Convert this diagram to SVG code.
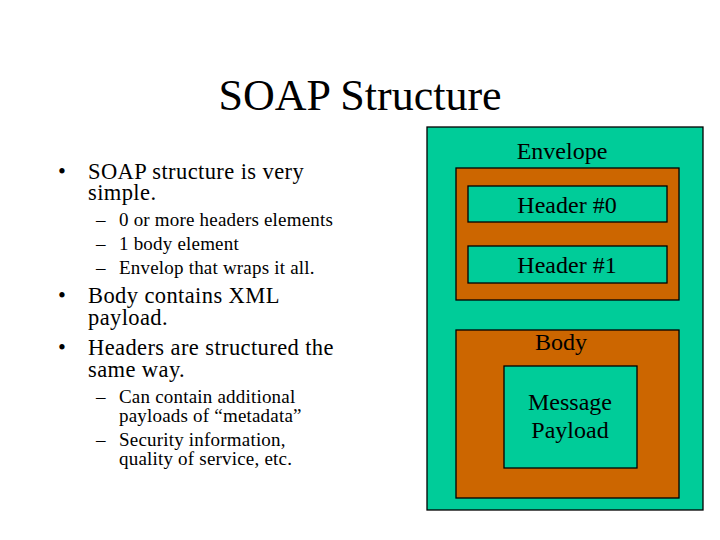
<svg xmlns="http://www.w3.org/2000/svg" width="720" height="540" viewBox="0 0 720 540">
<rect width="720" height="540" fill="#fff"/>
<g id="title">
<text font-family="Liberation Serif" font-size="44" x="360" y="110" text-anchor="middle">SOAP Structure</text>
</g>
<g id="bullets" fill="#000">
<text font-family="Liberation Serif" font-size="22.5" letter-spacing="0.4" x="58" y="179">•</text>
<text font-family="Liberation Serif" font-size="22.5" letter-spacing="0.4" x="88" y="179">SOAP structure is very</text>
<text font-family="Liberation Serif" font-size="22.5" letter-spacing="0.4" x="88" y="200">simple.</text>
<text font-family="Liberation Serif" font-size="19" letter-spacing="0.2" x="96" y="226">–</text><text font-family="Liberation Serif" font-size="19" letter-spacing="0.2" x="119" y="226">0 or more headers elements</text>
<text font-family="Liberation Serif" font-size="19" letter-spacing="0.2" x="96" y="250">–</text><text font-family="Liberation Serif" font-size="19" letter-spacing="0.2" x="119" y="250">1 body element</text>
<text font-family="Liberation Serif" font-size="19" letter-spacing="0.2" x="96" y="274">–</text><text font-family="Liberation Serif" font-size="19" letter-spacing="0.2" x="119" y="274">Envelop that wraps it all.</text>
<text font-family="Liberation Serif" font-size="22.5" letter-spacing="0.4" x="58" y="303">•</text>
<text font-family="Liberation Serif" font-size="22.5" letter-spacing="0.4" x="88" y="303">Body contains XML</text>
<text font-family="Liberation Serif" font-size="22.5" letter-spacing="0.4" x="88" y="325">payload.</text>
<text font-family="Liberation Serif" font-size="22.5" letter-spacing="0.4" x="58" y="355">•</text>
<text font-family="Liberation Serif" font-size="22.5" letter-spacing="0.4" x="88" y="355">Headers are structured the</text>
<text font-family="Liberation Serif" font-size="22.5" letter-spacing="0.4" x="88" y="377">same way.</text>
<text font-family="Liberation Serif" font-size="19" letter-spacing="0.2" x="96" y="403">–</text><text font-family="Liberation Serif" font-size="19" letter-spacing="0.2" x="119" y="403">Can contain additional</text>
<text font-family="Liberation Serif" font-size="19" letter-spacing="0.2" x="119" y="422">payloads of “metadata”</text>
<text font-family="Liberation Serif" font-size="19" letter-spacing="0.2" x="96" y="446">–</text><text font-family="Liberation Serif" font-size="19" letter-spacing="0.2" x="119" y="446">Security information,</text>
<text font-family="Liberation Serif" font-size="19" letter-spacing="0.2" x="119" y="465">quality of service, etc.</text>
</g>
<g id="envelope">
<rect fill="#00CC99" stroke="#000" stroke-width="1.3" x="427" y="127" width="276" height="383"/>
<text font-family="Liberation Serif" font-size="24" text-anchor="middle" x="562" y="159">Envelope</text>
</g>
<g id="headers">
<rect fill="#CC6600" stroke="#000" stroke-width="1.3" x="456" y="168" width="223" height="132"/>
</g>
<g id="header0">
<rect fill="#00CC99" stroke="#000" stroke-width="1.3" x="468" y="186" width="199" height="36"/>
<text font-family="Liberation Serif" font-size="24" text-anchor="middle" x="567" y="213">Header #0</text>
</g>
<g id="header1">
<rect fill="#00CC99" stroke="#000" stroke-width="1.3" x="468" y="246" width="199" height="37"/>
<text font-family="Liberation Serif" font-size="24" text-anchor="middle" x="567" y="273">Header #1</text>
</g>
<g id="body">
<rect fill="#CC6600" stroke="#000" stroke-width="1.3" x="456" y="330" width="223" height="168"/>
<text font-family="Liberation Serif" font-size="24" text-anchor="middle" x="561" y="350">Body</text>
</g>
<g id="payload">
<rect fill="#00CC99" stroke="#000" stroke-width="1.3" x="504" y="366" width="133" height="102"/>
<text font-family="Liberation Serif" font-size="24" text-anchor="middle" x="570" y="410">Message</text>
<text font-family="Liberation Serif" font-size="24" text-anchor="middle" x="570" y="438">Payload</text>
</g>
<g id="connectors"></g>
</svg>
